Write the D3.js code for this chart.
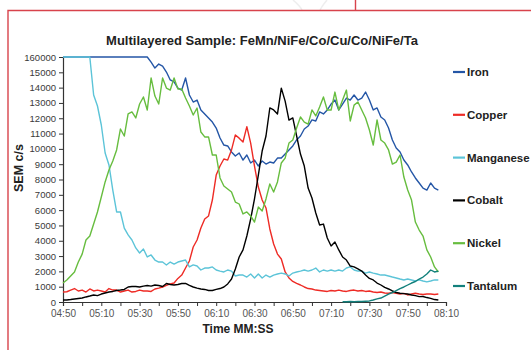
<!DOCTYPE html>
<html><head><meta charset="utf-8">
<script src="https://cdn.jsdelivr.net/npm/d3@7"></script>
<style>
html,body{margin:0;padding:0;background:#fff;}
svg{display:block;}
</style></head>
<body>
<svg id="chart" width="531" height="350"></svg>
<script>
// time in seconds (04:50 = 290 s), sampled every 2 s
const times = d3.range(99).map(i => 290 + 2 * i);

const iron = [16000,16000,16000,16000,16000,16000,16000,16000,16000,16000,16000,16000,16000,16000,16000,16000,16000,16000,16000,16000,16000,16000,16000,
15670,15280,15540,15410,15020,14500,14370,13970,13840,14630,13520,13060,13190,12540,12280,12020,11750,11360,10710,10250,10190,9800,9530,9730,9270,9600,9080,
9270,8880,9210,9010,9140,9080,9400,9400,9660,9930,10190,10580,10840,11300,11490,11890,11820,12410,12280,12540,12930,13190,12540,12930,13320,13190,13520,13190,13320,13710,
13190,12540,12670,12080,11890,11360,10580,10060,9800,9270,8950,8490,8100,7770,7440,7310,7770,7440,7310];

const copper = [650,670,780,880,720,780,650,850,720,780,720,650,880,780,780,650,720,780,650,690,780,720,720,690,850,910,980,1080,1180,1240,
1540,1760,2220,2680,3590,4050,4830,5420,5620,6660,8290,8880,9340,9270,9930,10910,10700,10450,11450,10380,8880,7510,6660,6140,4770,3790,3130,2810,1960,1570,
1340,1210,1110,980,880,850,780,750,720,690,750,720,780,720,690,750,780,720,750,690,720,650,620,650,590,570,620,570,520,560,
460,520,570,520,490,520,520,490,520];

const manganese = [16000,16000,16000,16000,16000,16000,16000,16000,13520,12800,11560,9730,8950,7310,5880,5880,4830,4380,4050,3530,3200,3460,2940,3070,2740,2610,2610,2420,2610,2480,
2610,2680,2740,2290,2420,2350,2090,2220,2220,2290,2090,2020,1960,2090,2020,1700,1760,1760,1630,1830,1570,1830,1570,1760,1630,1760,1830,1890,1830,1700,
1890,1960,2020,2090,2020,2090,2220,1960,2090,2020,2090,2020,2090,2020,2220,2290,2090,2020,2020,1890,1960,1890,1830,1760,1760,1700,1630,1570,1500,1440,
1500,1440,1370,1440,1370,1310,1370,1440,1440];

const cobalt = [130,130,160,200,230,260,330,390,460,420,520,590,650,690,750,780,820,980,1010,1010,980,1040,1080,1040,1110,1080,1010,1210,1140,1110,
1140,1210,1210,1080,980,910,850,820,750,750,820,880,980,1180,1500,2160,2940,3400,4310,5420,6730,8290,9860,10840,12670,12540,12280,13970,13120,11880,
12020,10840,9660,8880,7440,6790,5810,5030,5090,4180,3660,3920,3400,2940,2740,2350,2290,2160,2020,1760,1540,1440,1240,1110,950,850,720,620,570,550,
520,460,420,350,360,290,240,160,130];

const nickel = [1240,1440,1700,1960,2610,3130,4050,4310,5090,5880,6860,7840,8620,9210,9930,11300,10840,12280,12410,12020,12930,13390,12540,14630,13450,12930,14630,13970,13840,14630,
13910,13910,13320,12800,12210,12670,11100,10780,10780,9600,9600,8100,7580,7380,7180,6530,6400,5750,5880,5620,5220,6200,5940,6730,7710,7180,7840,9080,9400,10380,
10580,11360,12080,11750,11620,12540,12150,12730,13390,12540,12540,13710,12540,13190,13840,11820,12860,13060,12540,12020,11230,10250,11890,10580,10380,9930,9010,9140,9600,8160,
7310,6660,5220,4700,4310,3400,2940,2290,1960];

const tantalum = [null,null,null,null,null,null,null,null,null,null,null,null,null,null,null,null,null,null,null,null,null,null,null,null,null,null,null,null,null,null,
null,null,null,null,null,null,null,null,null,null,null,null,null,null,null,null,null,null,null,null,null,null,null,null,null,null,null,null,null,null,
null,null,null,null,null,null,null,null,null,null,null,null,null,20,20,30,20,30,30,50,70,130,200,260,390,520,620,750,880,980,
1110,1240,1340,1500,1630,1830,2090,1960,2020];

const seriesNames = ["Iron","Copper","Manganese","Cobalt","Nickel","Tantalum"];
const seriesValues = [iron, copper, manganese, cobalt, nickel, tantalum];
const seriesColors = ["#2456a6","#ee2b25","#5cc4d8","#000000","#67bd3f","#13807c"];

const yTickValues = d3.range(0, 17000, 1000);
const yTickLabels = ["0","1000","2000","3000","4000","5000","6000","7000","8000","9000","10000","11000","12000","13000","14000","15000","160000"];
const xTickValues = d3.range(290, 491, 10);
const xLabelValues = d3.range(290, 491, 20);

const title = "Multilayered Sample: FeMn/NiFe/Co/Cu/Co/NiFe/Ta";
const xTitle = "Time MM:SS";
const yTitle = "SEM c/s";

const svg = d3.select("#chart");

// page frame
svg.append("path").attr("d","M293,0 Q300,6 302,10 M327,0 Q322,6 320,10")
  .attr("fill","none").attr("stroke","#eeeeee").attr("stroke-width",1.5);
svg.append("path").attr("d","M8,350 L8,10.5 L531,10.5 M355.5,0 L355.5,10.5")
  .attr("fill","none").attr("stroke","#d8434c").attr("stroke-width",1.4);

const x = d3.scaleLinear().domain([290, 490]).range([63, 446]);
const y = d3.scaleLinear().domain([0, 16000]).range([302, 57]);

function fmt(s){ const m = Math.floor(s/60), ss = s%60; return String(m).padStart(2,"0")+":"+String(ss).padStart(2,"0"); }

// y axis
const yAxis = svg.append("g").attr("transform","translate(63,0)")
  .call(d3.axisLeft(y).tickValues(yTickValues).tickSize(4).tickPadding(3)
    .tickFormat((d,i) => yTickLabels[i]));
yAxis.selectAll("text").attr("font-family","Liberation Sans, Arial, sans-serif").attr("font-size","9.5px").attr("fill","#3a3a3a");

// x axis
const xAxis = svg.append("g").attr("transform","translate(0,302)")
  .call(d3.axisBottom(x).tickValues(xTickValues).tickSize(4).tickPadding(4)
    .tickFormat(d => xLabelValues.includes(d) ? fmt(d) : ""));
xAxis.selectAll("text").attr("font-family","Liberation Sans, Arial, sans-serif").attr("font-size","10px").attr("fill","#555");

svg.selectAll(".domain").attr("stroke","#333").attr("stroke-width",1.2);
svg.selectAll(".tick line").attr("stroke","#333");

// lines
const line = d3.line().defined(d => d[1] !== null).x(d => x(d[0])).y(d => y(d[1]));
seriesValues.forEach((vals, k) => {
  svg.append("path")
    .datum(times.map((t,i) => [t, vals[i]]))
    .attr("fill","none").attr("stroke", seriesColors[k])
    .attr("stroke-width",1.4).attr("stroke-linejoin","round")
    .attr("d", line);
});

// titles
svg.append("text").attr("x",262).attr("y",45).attr("text-anchor","middle")
  .attr("font-family","Liberation Sans, Arial, sans-serif").attr("font-weight","bold")
  .attr("font-size","13px").attr("fill","#222").text(title);
svg.append("text").attr("x",238).attr("y",333).attr("text-anchor","middle")
  .attr("font-family","Liberation Sans, Arial, sans-serif").attr("font-weight","bold")
  .attr("font-size","12px").attr("fill","#222").text(xTitle);
svg.append("text").attr("transform","translate(23,168) rotate(-90)").attr("text-anchor","middle")
  .attr("font-family","Liberation Sans, Arial, sans-serif").attr("font-weight","bold")
  .attr("font-size","12.5px").attr("fill","#222").text(yTitle);

// legend
const legY = d3.scalePoint().domain(seriesNames).range([72, 286]);
const leg = svg.append("g");
seriesNames.forEach((n,k) => {
  const yy = legY(n);
  leg.append("line").attr("x1",453).attr("x2",465).attr("y1",yy).attr("y2",yy)
    .attr("stroke",seriesColors[k]).attr("stroke-width",2.2);
  leg.append("text").attr("x",467).attr("y",yy+4)
    .attr("font-family","Liberation Sans, Arial, sans-serif").attr("font-weight","bold")
    .attr("font-size","11.5px").attr("fill","#222").text(n);
});
</script>
</body></html>
